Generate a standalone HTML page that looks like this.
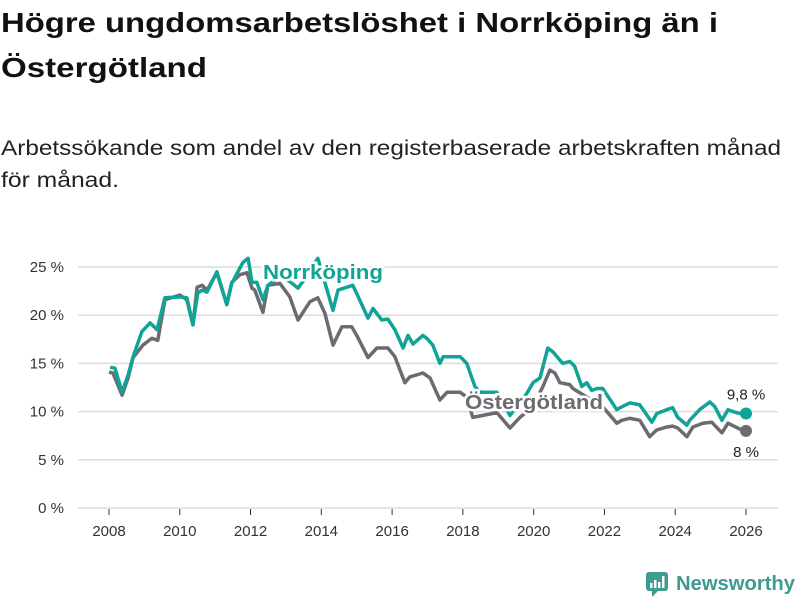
<!DOCTYPE html>
<html><head><meta charset="utf-8">
<style>
html,body{margin:0;padding:0;background:#fff;}
svg{display:block;font-family:"Liberation Sans",sans-serif;}
</style></head>
<body>
<svg id="chart" width="800" height="600" viewBox="0 0 800 600" xmlns="http://www.w3.org/2000/svg">
<text x="1" y="32" font-size="28" font-weight="bold" fill="#111" textLength="717" lengthAdjust="spacingAndGlyphs">Högre ungdomsarbetslöshet i Norrköping än i</text>
<text x="1" y="77" font-size="28" font-weight="bold" fill="#111" textLength="206" lengthAdjust="spacingAndGlyphs">Östergötland</text>
<text x="1" y="155" font-size="21" fill="#222" textLength="780" lengthAdjust="spacingAndGlyphs">Arbetssökande som andel av den registerbaserade arbetskraften månad</text>
<text x="1" y="187" font-size="21" fill="#222" textLength="118" lengthAdjust="spacingAndGlyphs">för månad.</text>
<g id="grid"></g><g id="xaxis"></g><g id="lines"></g><g id="labels"></g>
<g>
<rect x="646" y="572" width="22" height="19" rx="3" fill="#3d9b8f"/>
<path d="M652 591 L652 597 L658 591 Z" fill="#3d9b8f"/>
<rect x="650" y="583" width="2.5" height="5" fill="#fff"/><rect x="654" y="580" width="2.5" height="8" fill="#fff"/><rect x="658" y="582" width="2.5" height="6" fill="#fff"/><rect x="662" y="576" width="2.5" height="12" fill="#fff"/>
<text x="676" y="590" font-size="20" font-weight="bold" fill="#3d9b8f" textLength="119" lengthAdjust="spacingAndGlyphs">Newsworthy</text>
</g>
</svg>
<script>
const yTicks=[0,5,10,15,20,25];
const xTicks=[2008,2010,2012,2014,2016,2018,2020,2022,2024,2026];
const norrYears=[2008.03,2008.17,2008.37,2008.54,2008.68,2008.93,2009.16,2009.36,2009.58,2010.0,2010.2,2010.37,2010.51,2010.63,2010.77,2011.05,2011.33,2011.47,2011.7,2011.79,2011.93,2012.04,2012.18,2012.35,2012.49,2012.83,2013.11,2013.34,2013.68,2013.9,2014.33,2014.47,2014.89,2015.03,2015.32,2015.46,2015.71,2015.88,2016.08,2016.31,2016.45,2016.59,2016.87,2016.98,2017.15,2017.35,2017.44,2017.92,2018.11,2018.34,2018.48,2018.96,2019.33,2019.81,2019.98,2020.18,2020.4,2020.54,2020.82,2021.02,2021.16,2021.36,2021.5,2021.64,2021.79,2021.95,2022.35,2022.44,2022.72,2023.0,2023.34,2023.48,2023.76,2023.93,2024.07,2024.33,2024.41,2024.69,2024.98,2025.12,2025.32,2025.49,2025.63,2025.82,2026.0];
const norrValues=[14.6,14.5,12.0,13.8,15.7,18.3,19.2,18.5,21.8,21.9,21.8,19.0,22.3,22.6,22.4,24.5,21.1,23.3,24.9,25.5,25.9,23.4,23.4,21.6,23.1,24.0,23.5,22.8,24.5,25.9,20.5,22.6,23.1,22.0,19.7,20.7,19.5,19.6,18.5,16.6,17.9,17.0,17.9,17.6,16.9,15.0,15.7,15.7,15.0,12.6,12.0,12.0,9.6,11.9,13.0,13.5,16.6,16.2,15.0,15.2,14.7,12.6,13.0,12.2,12.4,12.4,10.2,10.4,10.9,10.7,8.9,9.8,10.2,10.4,9.4,8.6,9.1,10.2,11.0,10.5,9.1,10.2,10.0,9.8,9.8];
const ostYears=[2008.0,2008.11,2008.37,2008.54,2008.68,2008.96,2009.21,2009.38,2009.58,2010.0,2010.2,2010.37,2010.49,2010.63,2010.77,2011.05,2011.33,2011.47,2011.7,2011.9,2012.04,2012.12,2012.35,2012.49,2012.83,2013.11,2013.34,2013.68,2013.9,2014.1,2014.33,2014.58,2014.86,2015.03,2015.32,2015.57,2015.88,2016.08,2016.36,2016.5,2016.87,2017.07,2017.35,2017.55,2017.92,2018.11,2018.28,2018.96,2019.33,2019.61,2019.98,2020.26,2020.46,2020.6,2020.74,2021.02,2021.11,2021.5,2021.95,2022.35,2022.49,2022.72,2023.0,2023.28,2023.48,2023.76,2023.93,2024.07,2024.33,2024.5,2024.78,2025.03,2025.32,2025.49,2025.82,2026.0];
const ostValues=[14.1,14.0,11.7,13.5,15.6,16.9,17.6,17.4,21.6,22.1,21.6,19.0,22.9,23.1,22.6,24.4,21.1,23.4,24.2,24.4,22.8,22.6,20.3,23.1,23.3,21.9,19.5,21.4,21.8,20.2,16.9,18.8,18.8,17.7,15.6,16.6,16.6,15.7,13.0,13.6,14.0,13.5,11.2,12.0,12.0,11.5,9.4,9.9,8.3,9.4,10.5,12.6,14.3,14.0,13.0,12.8,12.4,11.5,10.5,8.8,9.1,9.3,9.1,7.4,8.1,8.4,8.5,8.3,7.4,8.4,8.8,8.9,7.8,8.8,8.2,8.0];
const NS="http://www.w3.org/2000/svg";
const xS=y=>109+(y-2008)*(746-109)/18;
const yS=v=>508-v*(508-267)/25;
function mk(tag,attrs,parent,txt){const e=document.createElementNS(NS,tag);for(const k in attrs)e.setAttribute(k,attrs[k]);if(txt!==undefined)e.textContent=txt;document.getElementById(parent).appendChild(e);return e;}
yTicks.forEach(t=>{
  const l=mk('line',{x1:78,x2:778,y1:yS(t),y2:yS(t),stroke:'#dcdcdc','stroke-width':1.5},'grid');
  
  
  const tx=mk('text',{x:64,y:yS(t)+5,'font-size':15,fill:'#333','text-anchor':'end'},'grid',t+' %');
  
  
});
xTicks.forEach(t=>{
  const l=mk('line',{x1:xS(t),x2:xS(t),y1:509,y2:515,stroke:'#333','stroke-width':1},'xaxis');
  
  
  const tx=mk('text',{x:xS(t),y:536,'font-size':15,fill:'#333','text-anchor':'middle'},'xaxis',String(t));
  
  
});
function line(ys,vs,color,name){
  const d=ys.map((y,i)=>(i?'L':'M')+xS(y).toFixed(1)+' '+yS(vs[i]).toFixed(1)).join(' ');
  const p=mk('path',{d:d,fill:'none',stroke:color,'stroke-width':3.5,'stroke-linejoin':'round'},'lines');
  
  
  const n=ys.length-1;
  const c=mk('circle',{cx:xS(ys[n]),cy:yS(vs[n]),r:6,fill:color},'lines');
  
  
}
line(ostYears,ostValues,'#6c6b71','ostergotland-line');
line(norrYears,norrValues,'#10a497','norrkoping-line');
const n1=norrValues.length-1,n2=ostValues.length-1;
const a=mk('text',{x:746,y:yS(norrValues[n1])-14,'font-size':15,fill:'#222','text-anchor':'middle'},'labels',String(norrValues[n1]).replace('.',',')+' %');


const b=mk('text',{x:746,y:yS(ostValues[n2])+26,'font-size':15,fill:'#222','text-anchor':'middle'},'labels',String(ostValues[n2]).replace('.',',')+' %');


const s1=mk('text',{x:263,y:279,'font-size':20,'font-weight':'bold',fill:'#10a497',stroke:'#fff','stroke-width':5,'paint-order':'stroke',textLength:120,lengthAdjust:'spacingAndGlyphs'},'labels','Norrköping');


const s2=mk('text',{x:465,y:409,'font-size':20,'font-weight':'bold',fill:'#6c6b71',stroke:'#fff','stroke-width':5,'paint-order':'stroke',textLength:138,lengthAdjust:'spacingAndGlyphs'},'labels','Östergötland');


</script>
</body></html>
